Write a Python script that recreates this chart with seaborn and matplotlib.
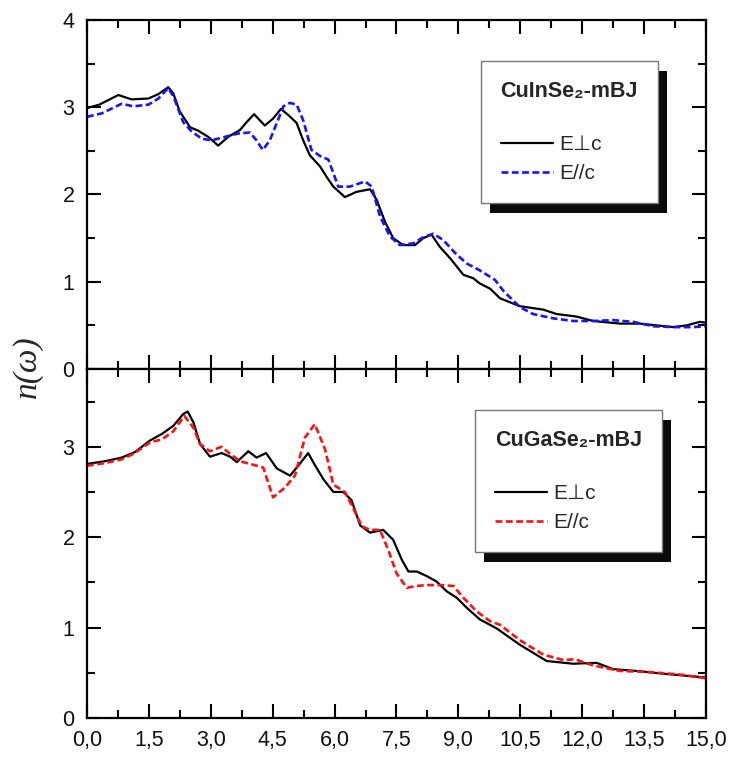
import matplotlib
matplotlib.use("Agg")
import matplotlib.pyplot as plt
import matplotlib.transforms as mtransforms
from matplotlib.patches import Rectangle
from matplotlib.ticker import MultipleLocator
import seaborn as sns
import numpy as np

# photon energy (eV) / refractive index
cuin_perp_x = [0.0, 0.3, 0.76, 1.08, 1.49, 1.73, 1.97, 2.09, 2.25, 2.5, 2.7, 2.94, 3.18, 3.42, 3.71, 3.87,
               4.05, 4.31, 4.51, 4.7, 4.88, 5.08, 5.24, 5.4, 5.65, 5.81, 5.97, 6.25, 6.53, 6.86, 7.02, 7.22,
               7.42, 7.66, 7.95, 8.15, 8.35, 8.55, 8.8, 9.12, 9.36, 9.52, 9.77, 10.01, 10.49, 11.06, 11.38,
               11.87, 12.27, 12.92, 13.4, 13.8, 14.21, 14.53, 14.85, 15.0]
cuin_perp_n = [2.99, 3.03, 3.14, 3.09, 3.10, 3.15, 3.23, 3.16, 2.95, 2.77, 2.73, 2.66, 2.56, 2.66, 2.74, 2.83,
               2.92, 2.79, 2.87, 2.98, 2.91, 2.82, 2.62, 2.45, 2.32, 2.20, 2.09, 1.97, 2.03, 2.06, 1.94, 1.69,
               1.50, 1.42, 1.42, 1.50, 1.54, 1.40, 1.27, 1.08, 1.04, 0.98, 0.92, 0.81, 0.72, 0.68, 0.63,
               0.60, 0.55, 0.52, 0.52, 0.50, 0.48, 0.50, 0.54, 0.53]

cuin_par_x = [0.0, 0.36, 0.84, 1.12, 1.49, 1.73, 1.97, 2.1, 2.33, 2.54, 2.78, 3.02, 3.34, 3.67, 3.95, 4.11,
              4.26, 4.43, 4.6, 4.76, 4.92, 5.08, 5.24, 5.44, 5.65, 5.85, 6.09, 6.37, 6.74, 6.9, 7.1, 7.34,
              7.58, 7.91, 8.15, 8.39, 8.63, 8.92, 9.2, 9.52, 9.89, 10.1, 10.49, 10.81, 11.3, 11.78, 12.27,
              12.75, 13.24, 13.72, 14.21, 14.69, 15.0]
cuin_par_n = [2.89, 2.93, 3.04, 3.01, 3.03, 3.10, 3.22, 3.12, 2.83, 2.72, 2.64, 2.62, 2.66, 2.70, 2.71, 2.62,
              2.51, 2.62, 2.82, 3.01, 3.05, 3.03, 2.85, 2.51, 2.44, 2.40, 2.09, 2.09, 2.15, 2.09, 1.75, 1.52,
              1.42, 1.44, 1.51, 1.55, 1.48, 1.33, 1.21, 1.13, 1.02, 0.89, 0.71, 0.63, 0.58, 0.55, 0.55,
              0.56, 0.54, 0.49, 0.48, 0.48, 0.49]

cuga_perp_x = [0.0, 0.44, 0.84, 1.16, 1.53, 1.81, 2.09, 2.33, 2.44, 2.58, 2.74, 2.98, 3.26, 3.47, 3.63, 3.91,
               4.11, 4.34, 4.6, 4.92, 5.12, 5.36, 5.52, 5.73, 5.97, 6.21, 6.41, 6.62, 6.86, 7.18, 7.42, 7.63,
               7.79, 7.99, 8.23, 8.47, 8.72, 8.96, 9.2, 9.52, 9.93, 10.49, 11.14, 11.78, 12.35, 12.75, 13.32,
               13.96, 14.93, 15.0]
cuga_perp_n = [2.81, 2.84, 2.88, 2.94, 3.07, 3.14, 3.23, 3.36, 3.39, 3.27, 3.03, 2.89, 2.93, 2.89, 2.83, 2.95,
               2.88, 2.93, 2.76, 2.68, 2.79, 2.93, 2.80, 2.64, 2.50, 2.50, 2.41, 2.13, 2.05, 2.08, 1.97, 1.75,
               1.62, 1.62, 1.57, 1.51, 1.40, 1.33, 1.22, 1.09, 0.99, 0.81, 0.63, 0.60, 0.61, 0.54, 0.52,
               0.49, 0.45, 0.45]

cuga_par_x = [0.0, 0.44, 0.84, 1.16, 1.53, 1.81, 2.09, 2.36, 2.58, 2.74, 2.98, 3.26, 3.47, 3.71, 4.03, 4.27,
              4.51, 4.8, 5.04, 5.28, 5.52, 5.77, 5.97, 6.25, 6.45, 6.66, 6.86, 7.1, 7.3, 7.5, 7.75, 7.99,
              8.23, 8.55, 8.88, 9.12, 9.44, 9.77, 10.01, 10.49, 11.06, 11.55, 11.82, 12.27, 12.92, 13.56,
              14.37, 15.0]
cuga_par_n = [2.79, 2.82, 2.86, 2.93, 3.05, 3.08, 3.17, 3.34, 3.21, 3.03, 2.95, 3.00, 2.92, 2.84, 2.80, 2.77,
              2.44, 2.55, 2.68, 3.10, 3.25, 2.97, 2.58, 2.50, 2.32, 2.12, 2.08, 2.08, 1.86, 1.60, 1.44, 1.46,
              1.47, 1.47, 1.46, 1.33, 1.18, 1.07, 1.03, 0.86, 0.70, 0.64, 0.65, 0.58, 0.52, 0.51,
              0.48, 0.44]

x_ticks = [0.0, 1.5, 3.0, 4.5, 6.0, 7.5, 9.0, 10.5, 12.0, 13.5, 15.0]
x_tick_labels = ["0,0", "1,5", "3,0", "4,5", "6,0", "7,5", "9,0", "10,5", "12,0", "13,5", "15,0"]
legend_titles = ["CuInSe\u2082-mBJ", "CuGaSe\u2082-mBJ"]
series_labels = ["E\u22a5c", "E//c"]

sns.set_theme(style="ticks")
plt.rcParams["font.family"] = ["Liberation Sans", "DejaVu Sans"]

fig, axes = plt.subplots(2, 1, figsize=(7.29, 7.6), dpi=100, sharex=True)
fig.subplots_adjust(left=0.1193, right=0.9684, top=0.9737, bottom=0.0553, hspace=0)

panels = [
    (axes[0], cuin_perp_x, cuin_perp_n, cuin_par_x, cuin_par_n, "#1414ff", 4.0, (0.922, 0.8825)),
    (axes[1], cuga_perp_x, cuga_perp_n, cuga_par_x, cuga_par_n, "#ff1010", 3.86, (0.929, 0.882)),
]

for i, (ax, px, pn, qx, qn, col, ytop, anchor) in enumerate(panels):
    sns.lineplot(x=px, y=pn, ax=ax, color="black", linewidth=1.6, sort=False, estimator=None,
                 label=series_labels[0], solid_joinstyle="round")
    sns.lineplot(x=qx, y=qn, ax=ax, color=col, linewidth=1.9, sort=False, estimator=None,
                 label=series_labels[1], linestyle=(0, (2.6, 1.3)))
    ax.set_xlim(0, 15)
    ax.set_ylim(0, ytop)
    ax.xaxis.set_major_locator(MultipleLocator(1.5))
    ax.xaxis.set_minor_locator(MultipleLocator(0.75))
    ax.yaxis.set_major_locator(MultipleLocator(1))
    ax.yaxis.set_minor_locator(MultipleLocator(0.5))
    ax.set_xticks(x_ticks)
    ax.set_xticklabels(x_tick_labels)
    ax.tick_params(which="both", direction="in", top=True, right=True, width=1.5, color="black",
                   labelsize=15.5, pad=9, labelcolor="#111111")
    ax.tick_params(which="major", length=10)
    ax.tick_params(which="minor", length=6)
    for sp in ax.spines.values():
        sp.set_linewidth(1.6)
        sp.set_color("black")
    ax.set_xlabel("")
    ax.set_ylabel("")

    # trailing newline leaves the extra gap under the title seen in the original
    leg = ax.legend(title=legend_titles[i] + "\n", loc="upper right", bbox_to_anchor=anchor,
                    borderaxespad=0, fontsize=15, title_fontsize=15.5, handlelength=2.5,
                    handletextpad=0.3, labelspacing=0.5, borderpad=0.95, fancybox=False,
                    framealpha=1, edgecolor="#777777", alignment="left")
    leg.get_title().set_fontweight("bold")
    leg.get_title().set_linespacing(1.1)
    leg.get_frame().set_linewidth(1.0)
    leg.set_zorder(6)

axes[0].tick_params(axis="x", labelbottom=False)

fig.text(0.038, 0.518, "n(\u03c9)", rotation=90, ha="center", va="center", fontsize=24,
         family="Liberation Serif", style="italic")

# black offset shadow behind each legend box
fig.canvas.draw()
for ax in axes:
    bb = ax.get_legend().get_window_extent()
    ax.add_patch(Rectangle((bb.x0 + 9, bb.y0 - 10), bb.width, bb.height,
                           transform=mtransforms.IdentityTransform(), facecolor="#0a0a0a",
                           edgecolor="none", zorder=5.5, clip_on=False))

fig.savefig("out.png", dpi=100)
